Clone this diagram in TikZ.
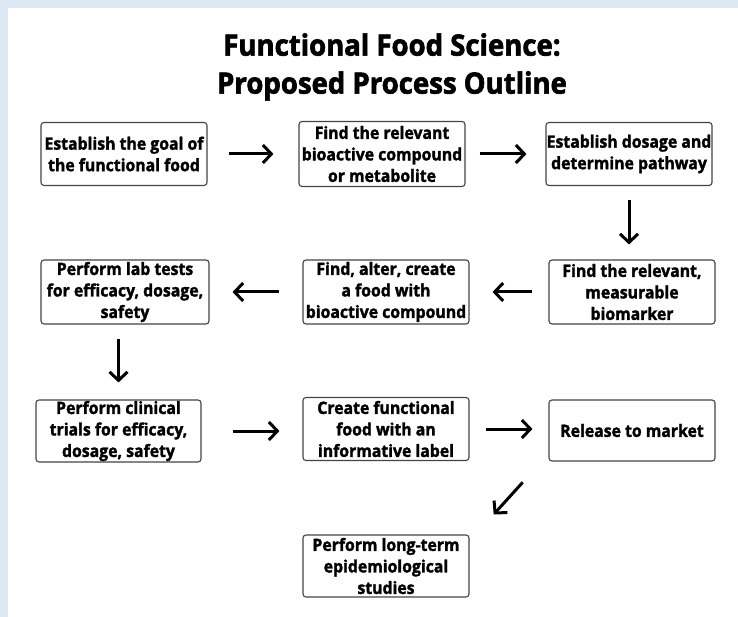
\documentclass[tikz,border=0pt]{standalone}
\usepackage{fontspec}
\setmainfont{Open Sans}[FakeStretch=0.93, BoldFeatures={FakeBold=1.7}]
\newfontfamily\titlefont{Open Sans}[FakeStretch=0.94, BoldFeatures={FakeBold=2.2}]
\usetikzlibrary{arrows.meta}
\definecolor{bluebg}{HTML}{DDE8F4}
\definecolor{boxline}{HTML}{444444}
\begin{document}
\begin{tikzpicture}[x=1pt,y=-1pt,
  stepbox/.style={draw=boxline, line width=1.1pt, rounded corners=3pt, minimum width=166pt, minimum height=63pt, align=center, inner sep=0.5pt, font=\bfseries\fontsize{17}{21.5}\selectfont},
  arr/.style={line width=3pt, -{Straight Barb[length=8.5pt,width=18pt,line width=3pt]}},
  titletext/.style={align=center, font=\titlefont\bfseries\fontsize{29.3}{38}\selectfont}]
\useasboundingbox (0,0) rectangle (738,617);
\fill[bluebg] (0,0) rectangle (738,617);
\fill[white] (8,8) rectangle (738,617);
\node[titletext] (title) at (392,67) {Functional Food Science:\\Proposed Process Outline};
\node[stepbox] (A) at (124,154) {Establish the goal of\\the functional food};
\node[stepbox, minimum height=65pt] (B) at (382,154) {Find the relevant\\bioactive compound\\or metabolite};
\node[stepbox] (C) at (629,154) {Establish dosage and\\determine pathway};
\node[stepbox, minimum height=64pt] (D) at (632,292) {Find the relevant,\\measurable\\biomarker};
\node[stepbox, minimum height=64pt] (F) at (386,292) {Find, alter, create\\a food with\\bioactive compound};
\node[stepbox, minimum height=64pt, minimum width=168pt] (E) at (125,292) {Perform lab tests\\for efficacy, dosage,\\safety};
\node[stepbox, minimum height=62pt, minimum width=165pt] (G) at (118.5,431) {Perform clinical\\trials for efficacy,\\dosage, safety};
\node[stepbox] (H) at (386,429) {Create functional\\food with an\\informative label};
\node[stepbox, minimum height=61pt] (I) at (632,430.5) {Release to market};
\node[stepbox, minimum height=62pt] (J) at (386,566) {Perform long-term\\epidemiological\\studies};
\draw[arr, shorten <=21pt, shorten >=25pt] (A.east) -- (A.east -| B.west);
\draw[arr, shorten <=14pt, shorten >=19pt] (B.east) -- (B.east -| C.west);
\draw[arr, shorten <=14pt, shorten >=15pt] (C.south) -- (C.south |- D.north);
\draw[arr, shorten <=16pt, shorten >=23pt] (D.west) -- (D.west -| F.east);
\draw[arr, shorten <=23pt, shorten >=23pt] (F.west) -- (F.west -| E.east);
\draw[arr, shorten <=14pt, shorten >=17pt] (G.north |- E.south) -- (G.north);
\draw[arr, shorten <=31pt, shorten >=23pt] (G.east) -- (G.east -| H.west);
\draw[arr, shorten <=16pt, shorten >=16pt] (H.east) -- (H.east -| I.west);
\draw[arr, shorten <=28pt, shorten >=27pt] ([xshift=-7pt]I.south west) -- ([xshift=6pt]J.north east);
\end{tikzpicture}
\end{document}
